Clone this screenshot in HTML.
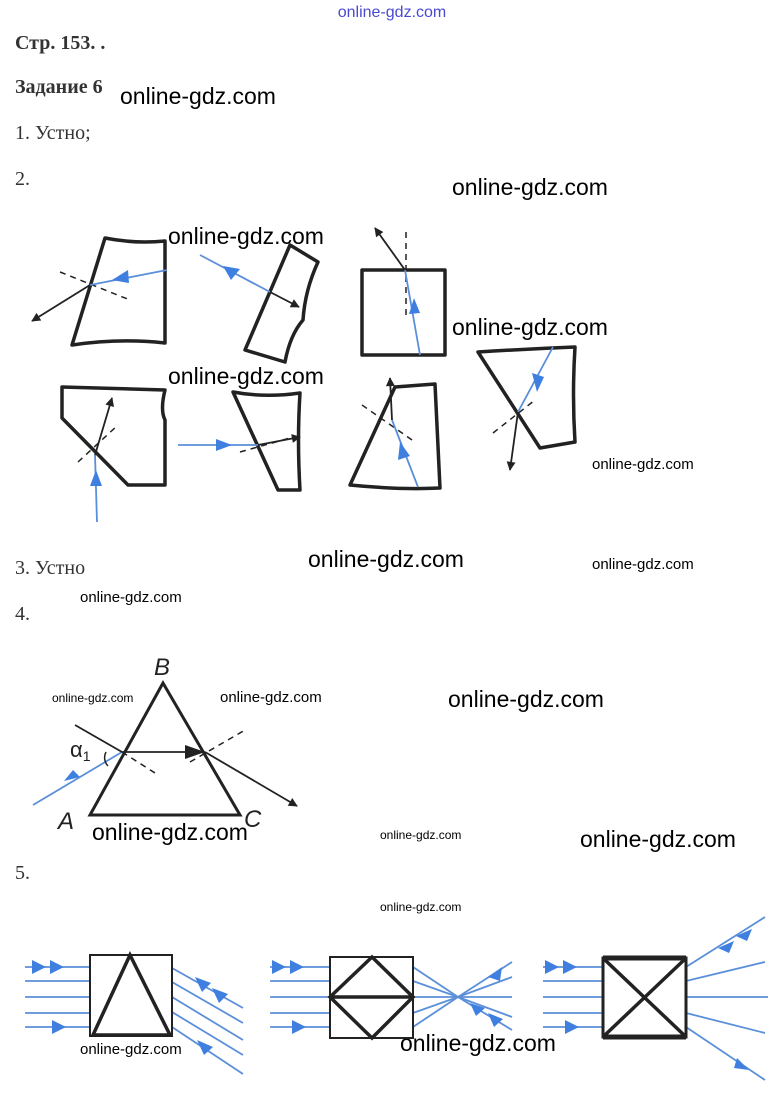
<!DOCTYPE html>
<html><head><meta charset="utf-8"><style>
body{margin:0;background:#fff;width:784px;height:1103px;overflow:hidden}
svg{display:block}
.t{font-family:"Liberation Serif",serif;font-size:20px;fill:#333}
.w{font-family:"Liberation Sans",sans-serif;fill:#000}
.s{fill:none;stroke:#222;stroke-width:3.5;stroke-linejoin:round}
.b{stroke:#5b8fd9;stroke-width:1.8;fill:none}
.k{stroke:#222;stroke-width:1.8;fill:none}
.d{stroke:#222;stroke-width:1.5;stroke-dasharray:6,5;fill:none}
</style></head><body>
<svg width="784" height="1103" viewBox="0 0 784 1103" xmlns="http://www.w3.org/2000/svg">
<defs>
<marker id="ak" viewBox="0 0 10 10" refX="9" refY="5" markerWidth="11" markerHeight="9" markerUnits="userSpaceOnUse" orient="auto"><path d="M0,0L10,5L0,10z" fill="#222"/></marker>
</defs>
<text x="392" y="17" text-anchor="middle" class="w" font-size="16" style="fill:#4a4ad0">online-gdz.com</text>
<text x="15" y="49" class="t" font-weight="bold">Стр. 153. .</text>
<text x="15" y="93" class="t" font-weight="bold">Задание 6</text>
<text x="15" y="139" class="t">1. Устно;</text>
<text x="15" y="185" class="t">2.</text>
<text x="15" y="574" class="t">3. Устно</text>
<text x="15" y="620" class="t">4.</text>
<text x="15" y="879" class="t">5.</text>
<g class="w">
<text x="120" y="104" font-size="23">online-gdz.com</text>
<text x="452" y="195" font-size="23">online-gdz.com</text>
<text x="168" y="244" font-size="23">online-gdz.com</text>
<text x="452" y="335" font-size="23">online-gdz.com</text>
<text x="168" y="384" font-size="23">online-gdz.com</text>
<text x="592" y="469" font-size="15">online-gdz.com</text>
<text x="308" y="567" font-size="23">online-gdz.com</text>
<text x="592" y="569" font-size="15">online-gdz.com</text>
<text x="80" y="602" font-size="15">online-gdz.com</text>
<text x="52" y="702" font-size="12">online-gdz.com</text>
<text x="220" y="702" font-size="15">online-gdz.com</text>
<text x="448" y="707" font-size="23">online-gdz.com</text>
<text x="92" y="840" font-size="23">online-gdz.com</text>
<text x="380" y="839" font-size="12">online-gdz.com</text>
<text x="580" y="847" font-size="23">online-gdz.com</text>
<text x="380" y="911" font-size="12">online-gdz.com</text>
<text x="80" y="1054" font-size="15">online-gdz.com</text>
<text x="400" y="1051" font-size="23">online-gdz.com</text>
</g>
<path class="s" d="M105,238 Q135,244 165,241 L165,343 Q120,338 72,345 Z"/>
<line class="d" x1="60" y1="272" x2="130" y2="300"/>
<line class="b" x1="167" y1="270" x2="90" y2="285"/><path d="M112,280l16,-10l1,13z" fill="#3f7fe0"/>
<line class="k" x1="90" y1="285" x2="32" y2="321" marker-end="url(#ak)"/>
<path class="s" d="M290,245 L318,262 Q305,290 303,320 Q290,335 285,362 L245,350 Z"/>
<line class="b" x1="200" y1="255" x2="270" y2="292"/><path d="M223,266l17,3l-9,11z" fill="#3f7fe0"/>
<line class="k" x1="270" y1="292" x2="299" y2="307" marker-end="url(#ak)"/>
<rect class="s" x="362" y="270" width="83" height="85"/>
<line class="d" x1="406" y1="232" x2="406" y2="318"/>
<line class="b" x1="420" y1="355" x2="405" y2="270"/><path d="M414,298l6,15l-11,1z" fill="#3f7fe0"/>
<line class="k" x1="405" y1="270" x2="375" y2="228" marker-end="url(#ak)"/>
<path class="s" d="M62,387 L165,390 Q160,410 165,420 L165,485 L128,485 L62,418 Z"/>
<line class="d" x1="78" y1="462" x2="118" y2="425"/>
<line class="b" x1="97" y1="522" x2="95" y2="455"/><path d="M96,470l6,16l-12,0z" fill="#3f7fe0"/>
<line class="k" x1="95" y1="455" x2="112" y2="398" marker-end="url(#ak)"/>
<path class="s" d="M233,392 Q265,398 300,393 Q297,440 300,490 L278,490 Z"/>
<line class="b" x1="178" y1="445" x2="258" y2="445"/><path d="M232,445l-16,-6l0,12z" fill="#3f7fe0"/>
<line class="d" x1="240" y1="452" x2="290" y2="438"/>
<line class="k" x1="258" y1="445" x2="300" y2="437" marker-end="url(#ak)"/>
<path class="s" d="M395,387 L435,384 L440,488 Q400,490 350,485 Z"/>
<line class="d" x1="362" y1="405" x2="412" y2="440"/>
<line class="b" x1="418" y1="487" x2="392" y2="420"/><path d="M400,442l10,14l-12,4z" fill="#3f7fe0"/>
<line class="k" x1="392" y1="420" x2="390" y2="378" marker-end="url(#ak)"/>
<path class="s" d="M478,352 Q525,349 575,347 Q572,395 575,442 L540,448 Z"/>
<line class="d" x1="493" y1="433" x2="535" y2="400"/>
<line class="b" x1="553" y1="347" x2="518" y2="412"/><path d="M537,392l7,-15l-12,-4z" fill="#3f7fe0"/>
<line class="k" x1="518" y1="412" x2="510" y2="470" marker-end="url(#ak)"/>
<text x="154" y="675" font-family="Liberation Sans,sans-serif" font-style="italic" font-size="24" fill="#222">B</text>
<text x="58" y="829" font-family="Liberation Sans,sans-serif" font-style="italic" font-size="24" fill="#222">A</text>
<text x="244" y="827" font-family="Liberation Sans,sans-serif" font-style="italic" font-size="24" fill="#222">C</text>
<text x="70" y="757" font-family="Liberation Sans,sans-serif" font-size="22" fill="#222">α<tspan font-size="14" dy="4">1</tspan></text>
<path d="M163,683 L90,815 L240,815 Z" fill="none" stroke="#222" stroke-width="3"/>
<line class="b" x1="33" y1="805" x2="122" y2="752"/><path d="M80,777l-16,4l9,-11z" fill="#3f7fe0"/>
<path d="M108,766 a12,12 0 0 1 -2,-14" fill="none" stroke="#222" stroke-width="1.5"/>
<line class="k" x1="75" y1="725" x2="122" y2="752"/>
<line class="d" x1="122" y1="752" x2="155" y2="773"/>
<line class="k" x1="122" y1="752" x2="205" y2="752"/><path d="M205,752l-20,-7l0,14z" fill="#222"/>
<line class="d" x1="190" y1="762" x2="245" y2="730"/>
<line class="k" x1="205" y1="752" x2="297" y2="806" marker-end="url(#ak)"/>
<g class="b">
<line x1="25" y1="967" x2="90" y2="967"/>
<line x1="25" y1="981" x2="90" y2="981"/><line x1="25" y1="997" x2="90" y2="997"/>
<line x1="25" y1="1013" x2="90" y2="1013"/><line x1="25" y1="1027" x2="90" y2="1027"/>
<line x1="172" y1="968" x2="243" y2="1008"/><line x1="172" y1="982" x2="243" y2="1023"/>
<line x1="172" y1="997" x2="243" y2="1040"/><line x1="172" y1="1012" x2="243" y2="1055"/>
<line x1="172" y1="1027" x2="243" y2="1074"/>
</g>
<path d="M32,960l14,7l-14,7zM50,960l14,7l-14,7zM52,1020l14,7l-14,7z" fill="#3f7fe0"/>
<path d="M195,977l16,6l-9,9zM212,988l16,6l-9,9zM197,1040l16,7l-9,8z" fill="#3f7fe0"/>
<rect x="90" y="955" width="82" height="81" fill="none" stroke="#222" stroke-width="2"/>
<path d="M130,955 L93,1035 L170,1035 Z" fill="none" stroke="#222" stroke-width="3.5"/>
<g class="b">
<line x1="270" y1="967" x2="330" y2="967"/><line x1="270" y1="981" x2="330" y2="981"/>
<line x1="270" y1="997" x2="330" y2="997"/><line x1="270" y1="1013" x2="330" y2="1013"/>
<line x1="270" y1="1027" x2="330" y2="1027"/>
<line x1="413" y1="967" x2="458" y2="997"/><line x1="413" y1="981" x2="458" y2="997"/>
<line x1="413" y1="997" x2="512" y2="997"/><line x1="413" y1="1013" x2="458" y2="997"/>
<line x1="413" y1="1027" x2="458" y2="997"/>
<line x1="458" y1="997" x2="512" y2="962"/><line x1="458" y1="997" x2="512" y2="977"/>
<line x1="458" y1="997" x2="512" y2="1017"/><line x1="458" y1="997" x2="512" y2="1030"/>
</g>
<path d="M272,960l14,7l-14,7zM290,960l14,7l-14,7zM292,1020l14,7l-14,7z" fill="#3f7fe0"/>
<path d="M488,977l14,-10l-2,14zM470,1003l15,5l-9,8zM488,1013l15,6l-9,8z" fill="#3f7fe0"/>
<rect x="330" y="957" width="83" height="81" fill="none" stroke="#222" stroke-width="2"/>
<path d="M372,957 L413,997 L372,1038 L330,997 Z M330,997 L413,997" fill="none" stroke="#222" stroke-width="3.5"/>
<g class="b">
<line x1="543" y1="967" x2="603" y2="967"/><line x1="543" y1="981" x2="603" y2="981"/>
<line x1="543" y1="997" x2="603" y2="997"/><line x1="543" y1="1013" x2="603" y2="1013"/>
<line x1="543" y1="1027" x2="603" y2="1027"/>
<line x1="686" y1="967" x2="765" y2="917"/><line x1="686" y1="981" x2="765" y2="962"/>
<line x1="686" y1="997" x2="768" y2="997"/><line x1="686" y1="1013" x2="765" y2="1033"/>
<line x1="686" y1="1027" x2="765" y2="1080"/>
</g>
<path d="M545,960l14,7l-14,7zM563,960l14,7l-14,7zM565,1020l14,7l-14,7z" fill="#3f7fe0"/>
<path d="M718,948l16,-7l-5,12zM736,936l16,-7l-5,12zM737,1058l12,12l-15,-2z" fill="#3f7fe0"/>
<rect x="603" y="958" width="83" height="79" fill="none" stroke="#222" stroke-width="3"/>
<path d="M603,958L686,958M603,1037L686,1037" stroke="#222" stroke-width="5"/>
<path d="M605,960L684,1035M684,960L605,1035" stroke="#222" stroke-width="3.5"/>
</svg>
</body></html>
